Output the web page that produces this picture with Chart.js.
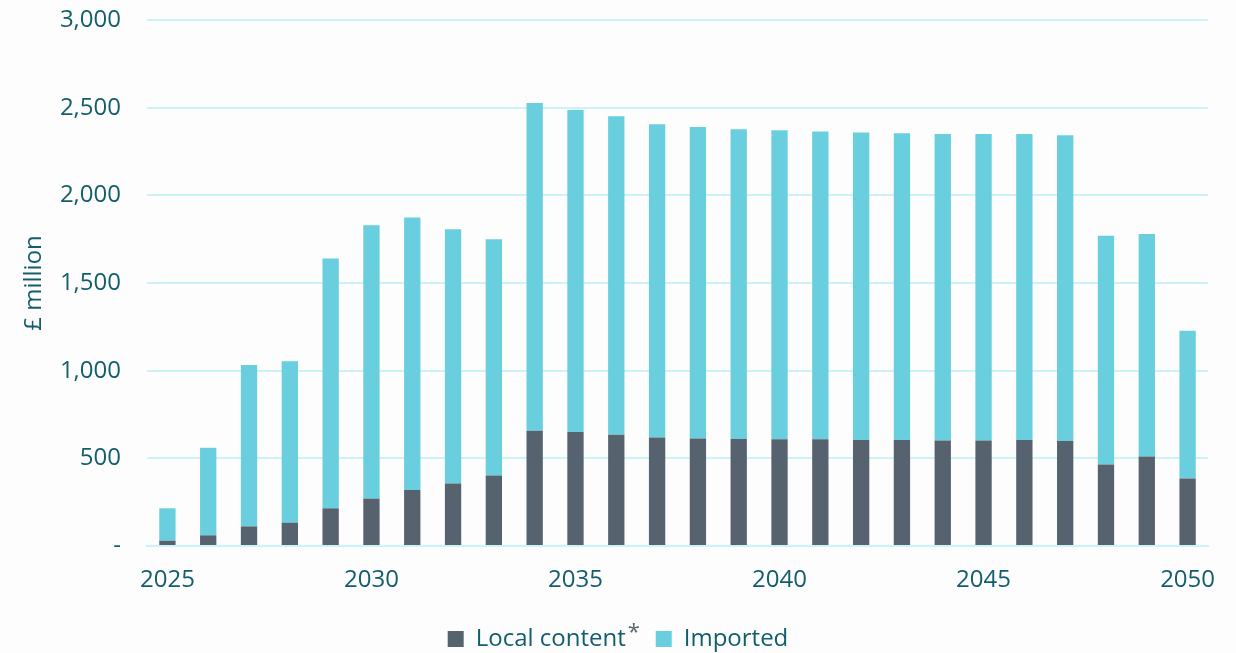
<!DOCTYPE html>
<html>
<head>
<meta charset="utf-8">
<script src="https://cdn.jsdelivr.net/npm/chart.js@4/dist/chart.umd.min.js"></script>
<style>
  html, body { margin: 0; padding: 0; background: #fdfdfd; }
  #wrap { width: 1236px; height: 653px; }
</style>
</head>
<body>
<div id="wrap"><canvas id="chart"></canvas></div>
<script>
const years = [2025, 2026, 2027, 2028, 2029, 2030, 2031, 2032, 2033, 2034, 2035, 2036, 2037,
    2038, 2039, 2040, 2041, 2042, 2043, 2044, 2045, 2046, 2047, 2048, 2049, 2050];
const localContent = [30, 61, 112, 133, 215, 270, 320, 356, 402, 657, 650, 634, 619,
    613, 610, 609, 609, 604, 604, 602, 602, 604, 599, 465, 510, 385];
const imported = [185, 499, 921, 920, 1425, 1559, 1554, 1450, 1347, 1870, 1836, 1817, 1787,
    1777, 1767, 1762, 1755, 1754, 1750, 1748, 1748, 1746, 1744, 1305, 1269, 842];
const yTicks = [0, 500, 1000, 1500, 2000, 2500, 3000];

const textColor = '#125e6d';
const gridColor = '#cdf3fa';
const font = 'Open Sans';

// superscript asterisk after the "Local content" legend entry
const legendStar = {
    id: 'legendStar',
    afterDraw(c) {
        const box = c.legend.legendHitBoxes[0];
        const ctx = c.ctx;
        ctx.save();
        ctx.font = '22px "' + font + '"';
        ctx.fillStyle = '#5a6670';
        ctx.textAlign = 'left';
        ctx.textBaseline = 'alphabetic';
        ctx.fillText('*', box.left + box.width + 2, box.top + 12);
        ctx.restore();
    }
};

const chart = document.querySelector('#chart').getContext('2d');

new Chart(chart, {
    type: 'bar',
    data: {
        labels: years,
        datasets: [
            {
                label: 'Local content',
                data: localContent,
                backgroundColor: '#56636f',
                barPercentage: 0.4,
                categoryPercentage: 1
            },
            {
                label: 'Imported',
                data: imported,
                backgroundColor: '#69cedd',
                barPercentage: 0.4,
                categoryPercentage: 1
            }
        ]
    },
    options: {
        responsive: true,
        maintainAspectRatio: false,
        animation: false,
        layout: {
            padding: { left: 0, right: 0, top: 20, bottom: -8 }
        },
        plugins: {
            tooltip: { enabled: false },
            legend: {
                position: 'bottom',
                labels: {
                    boxWidth: 16,
                    boxHeight: 16,
                    padding: 30,
                    color: textColor,
                    font: { family: font, size: 24 }
                }
            }
        },
        scales: {
            x: {
                stacked: true,
                grid: { display: false, drawTicks: false },
                border: { display: true, color: gridColor, width: 2 },
                ticks: {
                    autoSkip: false,
                    maxRotation: 0,
                    padding: 20,
                    color: textColor,
                    font: { family: font, size: 24 },
                    callback: (v, i) => years[i] % 5 === 0 ? String(years[i]) : ''
                },
                afterFit: (scale) => {
                    scale.height = 51;
                    scale.paddingRight = 28;
                }
            },
            y: {
                stacked: true,
                min: 0,
                max: 3000,
                afterBuildTicks: (scale) => { scale.ticks = yTicks.map(v => ({ value: v })); },
                grid: { color: gridColor, lineWidth: 2, drawTicks: false },
                border: { display: false },
                ticks: {
                    padding: 26,
                    color: textColor,
                    font: { family: font, size: 24 },
                    callback: (v) => v === 0 ? '-' : v.toLocaleString('en-GB')
                },
                title: {
                    display: true,
                    text: '£ million',
                    color: textColor,
                    font: { family: font, size: 24 },
                    padding: { top: 20, bottom: 0 }
                },
                afterFit: (scale) => {
                    scale.width = 147;
                    scale.paddingTop = 10;
                    scale.paddingBottom = 10;
                }
            }
        }
    },
    plugins: [legendStar]
});
</script>
</body>
</html>
